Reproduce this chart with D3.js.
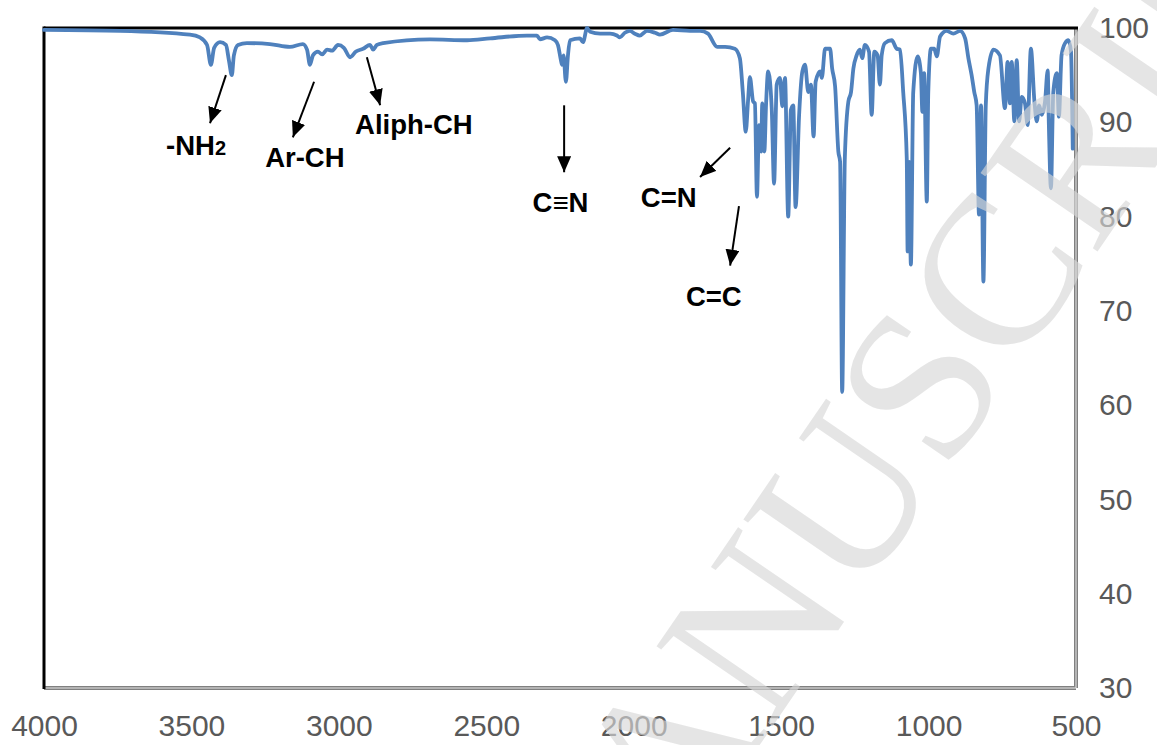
<!DOCTYPE html>
<html>
<head>
<meta charset="utf-8">
<script src="https://cdn.jsdelivr.net/npm/d3@7"></script>
<style>
  body { margin: 0; background: #fff; }
  svg { display: block; }
</style>
</head>
<body>
<div id="viz"></div>
<script>
// IR spectrum: wavenumber (cm-1) and transmittance (%)
var wavenumber = [4000,3742,3505,3471,3447,3434,3423,3403,3383,3373,
  3363,3356,3342,3312,3234,3166,3122,3108,3098,3088,
  3071,3057,3040,3023,3003,2983,2962,2942,2918,2894,
  2884,2871,2850,2691,2565,2487,2362,2328,2318,2294,
  2267,2257,2247,2243,2238,2230,2223,2216,2182,2172,
  2158,2148,2114,2080,2057,2047,2030,2013,1996,1979,
  1955,1928,1911,1867,1809,1775,1748,1717,1690,1657,
  1640,1630,1620,1612,1606,1595,1589,1582,1575,1568,
  1564,1557,1551,1544,1532,1524,1515,1504,1496,1487,
  1476,1467,1459,1451,1439,1428,1419,1408,1399,1390,
  1383,1368,1362,1351,1334,1327,1317,1306,1300,1293,
  1284,1272,1263,1255,1244,1233,1225,1216,1202,1193,
  1184,1173,1165,1159,1148,1125,1108,1097,1086,1074,
  1071,1066,1060,1052,1037,1026,1021,1015,1006,1001,
  992,981,972,961,939,916,893,876,865,854,
  845,837,829,822,814,806,797,780,758,741,
  732,724,718,709,701,693,684,673,664,653,
  641,633,625,616,605,596,592,585,577,565,
  558,549,537,526,517,511];

var transmittance = [99.8,99.7,99.3,99.0,98.2,96.1,97.9,98.5,98.2,96.6,
  95.0,97.1,98.2,98.4,98.3,98.0,98.3,97.7,96.1,97.1,
  97.5,97.2,97.7,97.6,98.2,97.9,96.9,97.5,97.8,98.2,
  97.7,98.2,98.4,98.8,98.7,98.9,99.2,99.2,98.8,99.0,
  98.7,98.2,96.6,96.1,97.1,94.3,97.1,98.7,98.9,98.5,
  100.0,99.6,99.4,99.4,99.2,99.0,99.5,99.7,99.4,99.2,
  99.7,99.5,99.3,99.8,99.7,99.7,99.4,98.0,98.0,97.8,
  96.8,93.2,89.0,92.4,94.8,92.2,92.0,82.1,89.7,86.9,
  92.0,86.9,92.0,95.4,91.5,83.5,94.0,94.7,91.7,94.7,
  80.0,91.3,91.8,81.0,90.8,95.4,96.1,93.2,94.0,88.5,
  94.3,95.4,94.7,97.8,97.8,95.7,93.8,86.9,85.8,61.4,
  86.2,92.2,93.2,95.7,97.1,97.7,96.8,98.2,97.5,90.8,
  97.5,97.1,94.0,97.1,98.4,98.7,97.8,97.7,93.2,86.2,
  76.3,85.8,74.9,93.2,97.0,95.2,91.1,95.2,81.6,93.2,
  97.8,97.8,97.0,99.1,99.7,99.4,99.7,98.9,96.8,95.0,
  93.2,91.8,80.2,91.8,73.1,91.8,95.7,97.7,97.1,91.5,
  96.4,92.0,96.4,90.1,96.6,90.1,92.7,92.0,89.7,97.8,
  92.2,90.1,91.8,90.8,92.2,95.5,89.7,83.0,93.2,95.2,
  90.6,97.1,98.4,98.7,97.5,87.2];

var xTicks = [4000,3500,3000,2500,2000,1500,1000,500];
var yTicks = [30,40,50,60,70,80,90,100];

// band labels: text position and arrow (from -> to), all in data units
var labels  = ["-NH", "Ar-CH", "Aliph-CH", "C\u2261N", "C=N", "C=C"];
var labelWn = [3586, 3250, 2945, 2343, 1976, 1823];
var labelT  = [86.5, 85.3, 88.8, 80.5, 81.0, 70.5];
var arrowFrom = [[3383,95.0],[3084,94.3],[2905,96.9],[2236,91.8],[1673,87.3],[1643,81.1]];
var arrowTo   = [[3437,89.9],[3156,88.4],[2860,91.8],[2236,84.7],[1775,84.2],[1673,74.8]];

var W = 1157, H = 745;
var svg = d3.select("#viz").append("svg")
    .attr("width", W)
    .attr("height", H);

var x = d3.scaleLinear().domain([4000,500]).range([44,1076]);
var y = d3.scaleLinear().domain([30,100]).range([688,28]);

svg.append("defs").append("marker")
    .attr("id","head")
    .attr("markerUnits","userSpaceOnUse")
    .attr("viewBox","0 0 16 14")
    .attr("refX",16).attr("refY",7)
    .attr("markerWidth",16).attr("markerHeight",14)
    .attr("orient","auto")
  .append("path")
    .attr("d","M0,0L16,7L0,14Z")
    .attr("fill","#000");

// frame
svg.append("line").attr("x1",x(4000)).attr("x2",x(500)).attr("y1",y(30)).attr("y2",y(30))
    .attr("stroke","#808080").attr("stroke-width",4);
svg.append("line").attr("x1",x(500)).attr("x2",x(500)).attr("y1",y(100)).attr("y2",y(30))
    .attr("stroke","#808080").attr("stroke-width",4);
svg.append("line").attr("x1",x(4000)).attr("x2",x(500)).attr("y1",y(30)).attr("y2",y(30))
    .attr("stroke","#e8e8e8").attr("stroke-width",1);
svg.append("line").attr("x1",x(500)).attr("x2",x(500)).attr("y1",y(100)).attr("y2",y(30))
    .attr("stroke","#e8e8e8").attr("stroke-width",1);
svg.append("line").attr("x1",x(4000)).attr("x2",x(500)+2).attr("y1",y(100)).attr("y2",y(100))
    .attr("stroke","#000").attr("stroke-width",3);
svg.append("line").attr("x1",x(4000)).attr("x2",x(4000)).attr("y1",y(100)-1.5).attr("y2",y(30)+1)
    .attr("stroke","#000").attr("stroke-width",3);

// tick labels
var xAxis = d3.axisBottom(x).tickValues(xTicks).tickFormat(d3.format("d")).tickSize(0).tickPadding(0);
var gx = svg.append("g").attr("transform","translate(0,715)").call(xAxis);
gx.select(".domain").remove();
gx.selectAll("text")
    .attr("font-family","Liberation Sans, Arial, sans-serif")
    .attr("font-size",30)
    .attr("fill","#595959");

var yAxis = d3.axisRight(y).tickValues(yTicks).tickFormat(d3.format("d")).tickSize(0).tickPadding(0);
var gy = svg.append("g").attr("transform","translate(1099,0)").call(yAxis);
gy.select(".domain").remove();
gy.selectAll("text")
    .attr("font-family","Liberation Sans, Arial, sans-serif")
    .attr("font-size",30)
    .attr("fill","#595959");

// spectrum
var pts = d3.zip(wavenumber, transmittance);
var line = d3.line()
    .curve(d3.curveMonotoneX)
    .x(function(d){ return x(d[0]); })
    .y(function(d){ return y(d[1]); });
svg.append("path")
    .datum(pts)
    .attr("d", line)
    .attr("fill","none")
    .attr("stroke","#4f81bd")
    .attr("stroke-width",3.8)
    .attr("stroke-linejoin","round")
    .attr("stroke-linecap","round");

// arrows
svg.selectAll(".arrow")
    .data(d3.range(labels.length))
    .enter().append("line")
    .attr("class","arrow")
    .attr("x1",function(i){ return x(arrowFrom[i][0]); })
    .attr("y1",function(i){ return y(arrowFrom[i][1]); })
    .attr("x2",function(i){ return x(arrowTo[i][0]); })
    .attr("y2",function(i){ return y(arrowTo[i][1]); })
    .attr("stroke","#000")
    .attr("stroke-width",2)
    .attr("marker-end","url(#head)");

// labels
var tl = svg.selectAll(".lab")
    .data(d3.range(labels.length))
    .enter().append("text")
    .attr("class","lab")
    .attr("x",function(i){ return x(labelWn[i]); })
    .attr("y",function(i){ return y(labelT[i]); })
    .attr("font-family","Liberation Sans, Arial, sans-serif")
    .attr("font-weight","bold")
    .attr("font-size",27.5)
    .attr("fill","#000")
    .text(function(i){ return labels[i]; });
tl.filter(function(i){ return i === 0; })
  .append("tspan").attr("font-size",20).text("2");

// watermark
svg.append("text")
    .attr("transform","translate(965,445) rotate(-55.6)")
    .attr("text-anchor","middle")
    .attr("font-family","Liberation Serif, Times New Roman, serif")
    .attr("font-size",215)
    .attr("fill","rgb(215,215,215)")
    .attr("fill-opacity",0.65)
    .text("MANUSCRIPT");
</script>
</body>
</html>
